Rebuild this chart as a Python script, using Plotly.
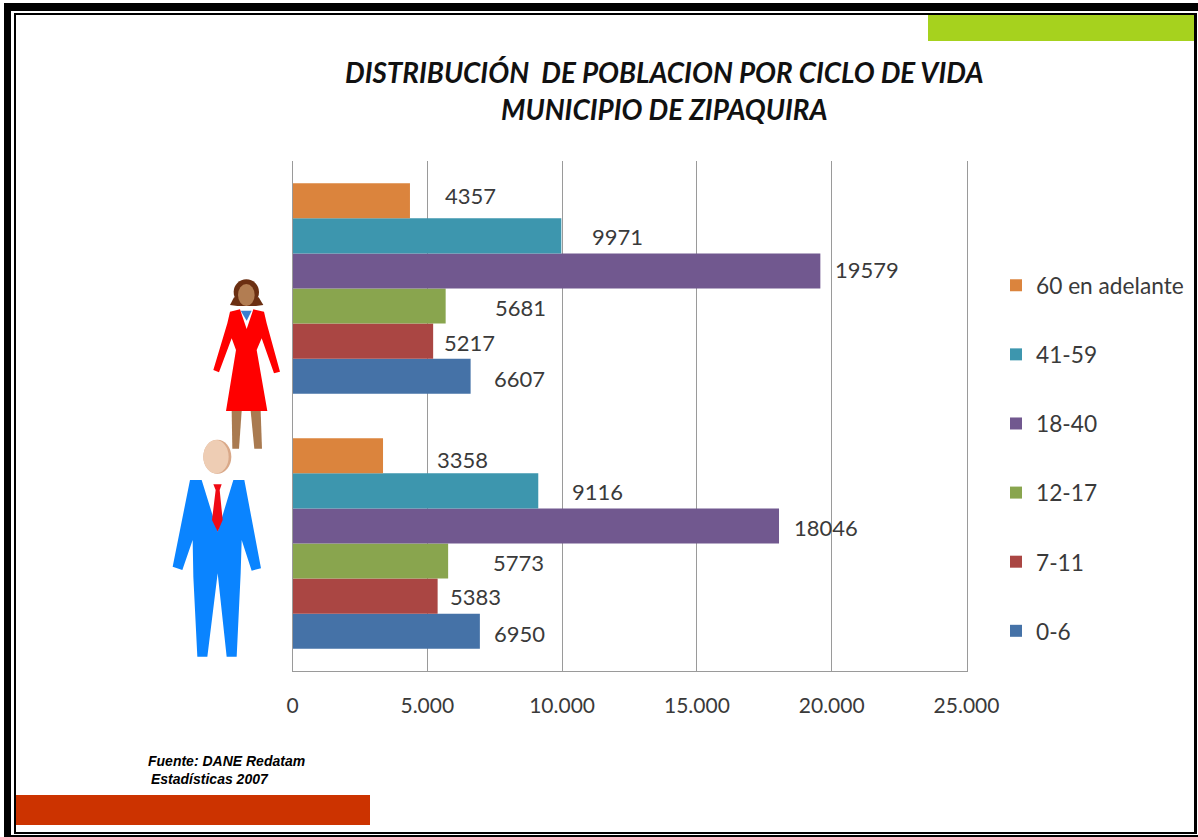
import plotly.graph_objects as go

W, H = 1198, 837

# ---- data ----
GROUPS = ["Hombres", "Mujeres"]
SERIES_NAMES = ["0-6", "7-11", "12-17", "18-40", "41-59", "60 en adelante"]
AGE_0_6 = [6950, 6607]
AGE_7_11 = [5383, 5217]
AGE_12_17 = [5773, 5681]
AGE_18_40 = [18046, 19579]
AGE_41_59 = [9116, 9971]
AGE_60_UP = [3358, 4357]
TICK_VALUES = [0, 5000, 10000, 15000, 20000, 25000]
TICK_LABELS = ["0", "5.000", "10.000", "15.000", "20.000", "25.000"]
TITLE_LINE_1 = "DISTRIBUCIÓN  DE POBLACION POR CICLO DE VIDA"
TITLE_LINE_2 = "MUNICIPIO DE ZIPAQUIRA"
SOURCE_LINE_1 = "Fuente: DANE Redatam"
SOURCE_LINE_2 = "Estadísticas 2007"

# ---- style / layout tuning ----
COLORS = ["#4572A7", "#AA4643", "#89A54E", "#71588F", "#3D96AE", "#DB843D"]
FONT = "Lato"
TEXT = "#3a3a3a"
GRID = "#9a9a9a"
PLOT_L, PLOT_R, PLOT_T, PLOT_B = 292.5, 966.5, 161, 671
BAR_PX = 35.1
# label nudges away from the bar end/centre (px) in the hand-placed original: [men, women]
NUDGE_X = [[12, 21], [10, 9], [43, 47], [13, 13], [32, 29], [52, 33]]
NUDGE_Y = [[3, 3], [1, 2], [2, 2], [3, 0], [2, 2], [5, -4]]


def px(x):
    return x / W


def py(y):
    return 1 - y / H


def rect(x0, y0, x1, y1, color):
    return dict(type="rect", xref="paper", yref="paper", x0=px(x0), x1=px(x1),
                y0=py(y0), y1=py(y1), fillcolor=color, line_width=0, layer="below")


def poly(points, color, ox=150, oy=260, k=3):
    d = "M " + " L ".join(f"{px(ox + a / k):.5f},{py(oy + b / k):.5f}" for a, b in points) + " Z"
    return dict(type="path", xref="paper", yref="paper", path=d, fillcolor=color,
                line_width=0, layer="above")


def oval(cx, cy, rx, ry, color, ox=150, oy=260, k=3):
    return dict(type="circle", xref="paper", yref="paper",
                x0=px(ox + (cx - rx) / k), x1=px(ox + (cx + rx) / k),
                y0=py(oy + (cy - ry) / k), y1=py(oy + (cy + ry) / k),
                fillcolor=color, line_width=0, layer="above")


fig = go.Figure()
ALL_SERIES = [AGE_0_6, AGE_7_11, AGE_12_17, AGE_18_40, AGE_41_59, AGE_60_UP]
annotations = []
for i, (name, vals, col) in enumerate(zip(SERIES_NAMES, ALL_SERIES, COLORS)):
    fig.add_trace(go.Bar(name=name, y=GROUPS, x=vals, orientation="h",
                         marker=dict(color=col, line_width=0),
                         legendgroup=name, legendrank=100 - i))
    for j, v in enumerate(vals):
        annotations.append(dict(
            x=v, y=GROUPS[j], xref="x", yref="y", text=str(v), showarrow=False,
            xanchor="left", yanchor="middle",
            xshift=NUDGE_X[i][j], yshift=(i - 2.5) * BAR_PX - NUDGE_Y[i][j] + 1,
            font=dict(family=FONT, size=22, color=TEXT)))

annotations += [
    dict(x=px(664), y=py(72), xref="paper", yref="paper", text=TITLE_LINE_1, showarrow=False,
         yanchor="middle",
         font=dict(family=FONT, size=27.8, color="#111111", weight="bold", style="italic")),
    dict(x=px(664), y=py(110), xref="paper", yref="paper", text=TITLE_LINE_2, showarrow=False,
         yanchor="middle",
         font=dict(family=FONT, size=27.8, color="#111111", weight="bold", style="italic")),
    dict(x=px(146), y=py(761), xref="paper", yref="paper", text=SOURCE_LINE_1, showarrow=False,
         xanchor="left", yanchor="middle",
         font=dict(family="Liberation Sans", size=14, color="#000000", weight="bold", style="italic")),
    dict(x=px(149), y=py(779), xref="paper", yref="paper", text=SOURCE_LINE_2, showarrow=False,
         xanchor="left", yanchor="middle",
         font=dict(family="Liberation Sans", size=14, color="#000000", weight="bold", style="italic")),
]

shapes = [
    # double page frame
    rect(4, 3, 1198, 837, "#000000"),
    rect(11, 11, 1198, 835, "#ffffff"),
    rect(14, 13, 1197, 834, "#000000"),
    rect(16, 15, 1194, 832, "#ffffff"),
    # accent bands
    rect(928, 15, 1194, 41, "#A6D21E"),
    rect(16, 795, 370, 825, "#CC3300"),
    # woman
    oval(289, 96, 38, 38, "#6B2F12"),
    poly([(240, 135), (252, 112), (326, 112), (340, 135), (318, 138), (262, 138)], "#6B2F12"),
    poly([(245, 453), (275, 453), (267, 566), (247, 566)], "#A97A50"),
    poly([(302, 453), (332, 453), (336, 566), (313, 566)], "#A97A50"),
    oval(289, 105, 25, 33, "#B27D52"),
    poly([(265, 148), (315, 148), (290, 210)], "#FFFFFF"),
    poly([(272, 152), (305, 152), (290, 182)], "#3A7FD0"),
    poly([(240, 155), (270, 148), (290, 207), (310, 148), (342, 155), (350, 190), (390, 335), (372, 340),
          (335, 235), (320, 270), (352, 453), (228, 453), (258, 270), (245, 235), (207, 337), (190, 330),
          (232, 190)], "#FF0000"),
    # man
    oval(202, 590, 42, 51, "#D9A888"),
    oval(198, 590, 38, 50, "#EECDB4"),
    poly([(120, 660), (155, 660), (203, 815), (250, 660), (283, 660), (333, 925), (305, 932), (275, 840),
          (272, 940), (260, 1190), (230, 1190), (203, 940), (172, 1190), (142, 1190), (130, 950), (128, 840),
          (97, 930), (68, 920)], "#0A84FF"),
    poly([(190, 673), (215, 673), (209, 690), (218, 780), (203, 815), (186, 780), (197, 690)], "#F00A14"),
]

fig.update_layout(
    width=W, height=H, margin=dict(l=0, r=0, t=0, b=0, autoexpand=False),
    paper_bgcolor="#ffffff", plot_bgcolor="rgba(0,0,0,0)",
    barmode="group", bargap=0.174, bargroupgap=0,
    font=dict(family=FONT, size=21, color=TEXT),
    shapes=shapes, annotations=annotations,
    legend=dict(x=px(996), y=py(264), xanchor="left", yanchor="top", traceorder="grouped",
                tracegroupgap=36.6, bgcolor="rgba(0,0,0,0)", font=dict(family=FONT, size=22.7, color=TEXT)),
    xaxis=dict(domain=[px(PLOT_L), px(PLOT_R)], range=[0, 25000], tickvals=TICK_VALUES, ticktext=TICK_LABELS,
               showgrid=True, gridcolor=GRID, gridwidth=1, showline=True, linecolor=GRID, linewidth=1,
               ticks="outside", ticklen=16, tickcolor="rgba(0,0,0,0)", zeroline=False,
               tickfont=dict(family=FONT, size=21, color=TEXT)),
    yaxis=dict(domain=[py(PLOT_B), py(PLOT_T)], showticklabels=False, showgrid=False, ticks="",
               showline=True, mirror=True, linecolor=GRID, linewidth=1, zeroline=False),
)

fig.write_html("out.html", config={"displayModeBar": False},
               post_script="document.body.style.margin='0';document.documentElement.style.overflow='hidden';")
